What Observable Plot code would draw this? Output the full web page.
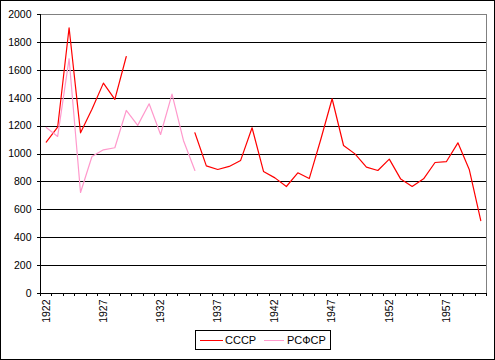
<!DOCTYPE html>
<html>
<head>
<meta charset="utf-8">
<script src="https://cdn.jsdelivr.net/npm/d3@7"></script>
<script src="https://cdn.jsdelivr.net/npm/@observablehq/plot@0.6"></script>
<style>
  body { margin: 0; background: white; }
  #wrap { position: relative; width: 495px; height: 360px; overflow: hidden; background: white; }
  #border { position: absolute; left: 0; top: 0; width: 495px; height: 360px; box-sizing: border-box; border: 1px solid #000; pointer-events: none; }
  #legend { position: absolute; left: 195px; top: 330px; width: 136px; height: 20px; box-sizing: border-box; border: 1px solid #000; font-family: "Liberation Sans", Arial, sans-serif; font-size: 11px; }
  .sw { position: absolute; top: 9px; height: 1px; }
  .lt { position: absolute; top: 3px; line-height: 12px; }
</style>
</head>
<body>
<div id="wrap"><div id="border"></div></div>
<script>
const years = d3.range(1922, 1961);
const ussr = [1085, 1192, 1905, 1152, 1320, 1508, 1391, 1699, null, null,
  null, null, null, 1152, 915, 889, 911, 954, 1188, 875,
  829, 767, 865, 824, 1102, 1396, 1061, 1001, 906, 882,
  963, 820, 767, 822, 939, 946, 1080, 887, 523];
const rsfsr = [1190, 1126, 1683, 724, 982, 1030, 1045, 1312, 1205, 1360,
  1140, 1429, 1097, 882, null, null, null, null, null, null,
  null, null, null, null, null, null, null, null, null, null,
  null, null, null, null, null, null, null, null, null];
const seriesNames = ["СССР", "РСФСР"];
const seriesColors = ["#ff0000", "#ff99cc"];
const yTicks = d3.range(0, 2001, 200);
const xLabelYears = d3.range(1922, 1958, 5);
const xBoundaries = d3.range(1921.5, 1961, 1);

const rows = [];
years.forEach((yr, i) => {
  rows.push({year: yr, value: ussr[i], series: seriesNames[0]});
});
years.forEach((yr, i) => {
  rows.push({year: yr, value: rsfsr[i], series: seriesNames[1]});
});

const chart = Plot.plot({
  width: 495,
  height: 360,
  marginLeft: 40,
  marginRight: 9,
  marginTop: 14,
  marginBottom: 67,
  style: {fontFamily: "'Liberation Sans', Arial, sans-serif", fontSize: "10.5px", color: "#000", background: "transparent"},
  x: {domain: [1921.5, 1960.5], axis: null},
  y: {domain: [0, 2000], axis: null},
  color: {domain: seriesNames, range: seriesColors},
  marks: [
    Plot.ruleY(yTicks.filter(d => d > 0 && d < 2000), {stroke: "#000", strokeWidth: 1, shapeRendering: "crispEdges"}),
    Plot.frame({anchor: "top", stroke: "#808080", shapeRendering: "crispEdges"}),
    Plot.frame({anchor: "right", stroke: "#808080", shapeRendering: "crispEdges"}),
    Plot.axisY({ticks: yTicks, tickSize: 3, tickPadding: 6, label: null, tickFormat: d => String(d), stroke: "#000", shapeRendering: "crispEdges"}),
    Plot.axisX({ticks: xBoundaries, tickSize: 3, tickFormat: () => "", label: null, stroke: "#000", shapeRendering: "crispEdges"}),
    Plot.axisX({ticks: xLabelYears, tickSize: 0, tickPadding: 6, tickRotate: -90, tickFormat: d => String(d), label: null}),
    Plot.line(rows, {x: "year", y: "value", z: "series", stroke: "series", strokeWidth: 1.2}),
    Plot.frame({anchor: "left", stroke: "#000", shapeRendering: "crispEdges"}),
    Plot.frame({anchor: "bottom", stroke: "#000", shapeRendering: "crispEdges"})
  ]
});

const wrap = document.getElementById("wrap");
wrap.insertBefore(chart, wrap.firstChild);

const legend = document.createElement("div");
legend.id = "legend";
const swLeft = [4, 68];
const txtLeft = [29, 91];
const swWidth = [23, 20];
seriesNames.forEach((name, i) => {
  const sw = document.createElement("div");
  sw.className = "sw";
  sw.style.left = swLeft[i] + "px";
  sw.style.width = swWidth[i] + "px";
  sw.style.background = seriesColors[i];
  legend.appendChild(sw);
  const t = document.createElement("div");
  t.className = "lt";
  t.style.left = txtLeft[i] + "px";
  t.textContent = name;
  legend.appendChild(t);
});
wrap.appendChild(legend);
</script>
</body>
</html>
